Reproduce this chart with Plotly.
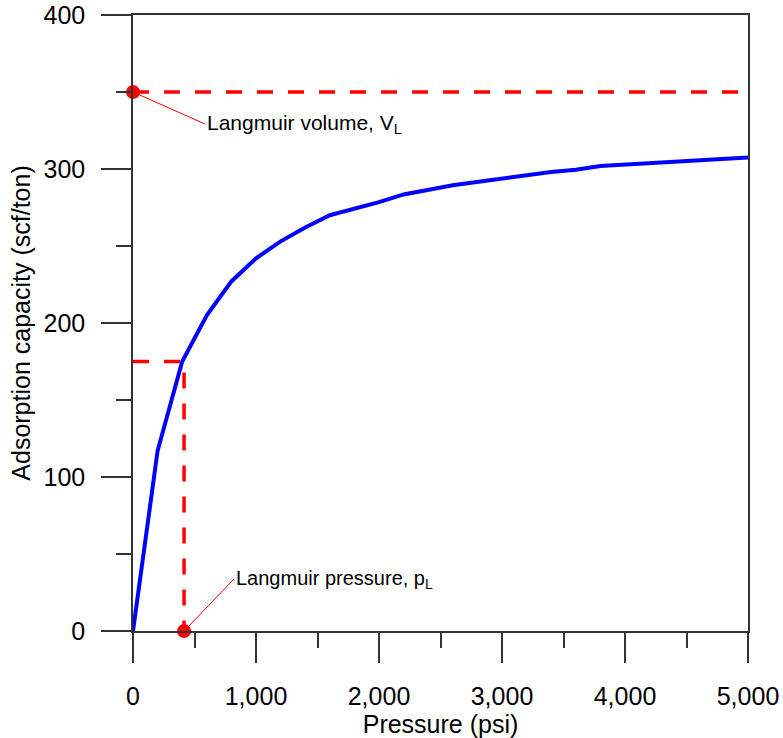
import plotly.graph_objects as go

# Data
pressure = [0, 200, 400, 600, 800, 1000, 1200, 1400, 1600, 2000, 2200, 2600, 3400, 3600, 3800, 5000]
capacity = [0, 117, 175, 205, 227, 242, 253, 262, 270, 278.5, 283.5, 289.5, 298, 299.5, 302, 307.5]

langmuir_volume = 350
langmuir_pressure = 415
langmuir_half = 175

x_range = [0, 5000]
y_range = [0, 400]

FONT = "Arial, Liberation Sans, sans-serif"
DASH = "16px,15px"

fig = go.Figure()

fig.add_trace(go.Scatter(
    x=pressure, y=capacity, mode="lines",
    line=dict(color="#0000ff", width=4), cliponaxis=False, showlegend=False))

# VL dashed line
fig.add_trace(go.Scatter(
    x=[0, x_range[1]], y=[langmuir_volume, langmuir_volume], mode="lines",
    line=dict(color="#ff0000", width=3.5, dash=DASH), cliponaxis=False, showlegend=False))

# pL dashed line
fig.add_trace(go.Scatter(
    x=[0, langmuir_pressure, langmuir_pressure], y=[langmuir_half, langmuir_half, 0], mode="lines",
    line=dict(color="#ff0000", width=3.5, dash=DASH), cliponaxis=False, showlegend=False))

# markers
fig.add_trace(go.Scatter(
    x=[0, langmuir_pressure], y=[langmuir_volume, 0], mode="markers",
    marker=dict(color="#ff0000", size=14), cliponaxis=False, showlegend=False))

fig.add_annotation(
    x=0, y=langmuir_volume, text="Langmuir volume, V<sub>L</sub>",
    showarrow=True, arrowhead=0, arrowwidth=1, arrowcolor="#ff0000",
    ax=72, ay=32, xanchor="left", yanchor="middle",
    font=dict(family=FONT, size=21, color="black"))

fig.add_annotation(
    x=langmuir_pressure, y=0, text="Langmuir pressure, p<sub>L</sub>",
    showarrow=True, arrowhead=0, arrowwidth=1, arrowcolor="#ff0000",
    ax=50, ay=-52, xanchor="left", yanchor="middle",
    font=dict(family=FONT, size=20, color="black"))

axis_common = dict(
    showgrid=False, zeroline=False, showline=True, linecolor="#333333", linewidth=1.5,
    mirror=True, ticks="outside", ticklen=30, tickwidth=1.5, tickcolor="#333333",
    tickfont=dict(family=FONT, size=25, color="black"), automargin=False,
    ticklabeloverflow="allow",
)

fig.update_xaxes(
    range=x_range, dtick=1000, tickformat=",d",
    minor=dict(dtick=500, ticks="outside", ticklen=15, tickwidth=1.5, tickcolor="#333333"),
    title=dict(text="Pressure (psi)", font=dict(family=FONT, size=25, color="black"), standoff=0),
    ticklabelstandoff=12,
    **axis_common)
fig.update_yaxes(
    range=y_range, dtick=100,
    minor=dict(dtick=50, ticks="outside", ticklen=15, tickwidth=1.5, tickcolor="#333333"),
    title=dict(text="Adsorption capacity (scf/ton)", font=dict(family=FONT, size=25, color="black"), standoff=6),
    ticklabelstandoff=11,
    **axis_common)

fig.update_layout(
    width=783, height=738,
    margin=dict(l=133, r=35, t=15, b=107),
    paper_bgcolor="white", plot_bgcolor="white",
    font=dict(family=FONT, color="black"),
)

# remove the page's default body margin so the figure fills the window
fig.write_html(
    "out.html",
    config={"displayModeBar": False},
    post_script="document.body.style.margin='0';document.body.style.overflow='hidden';",
)
